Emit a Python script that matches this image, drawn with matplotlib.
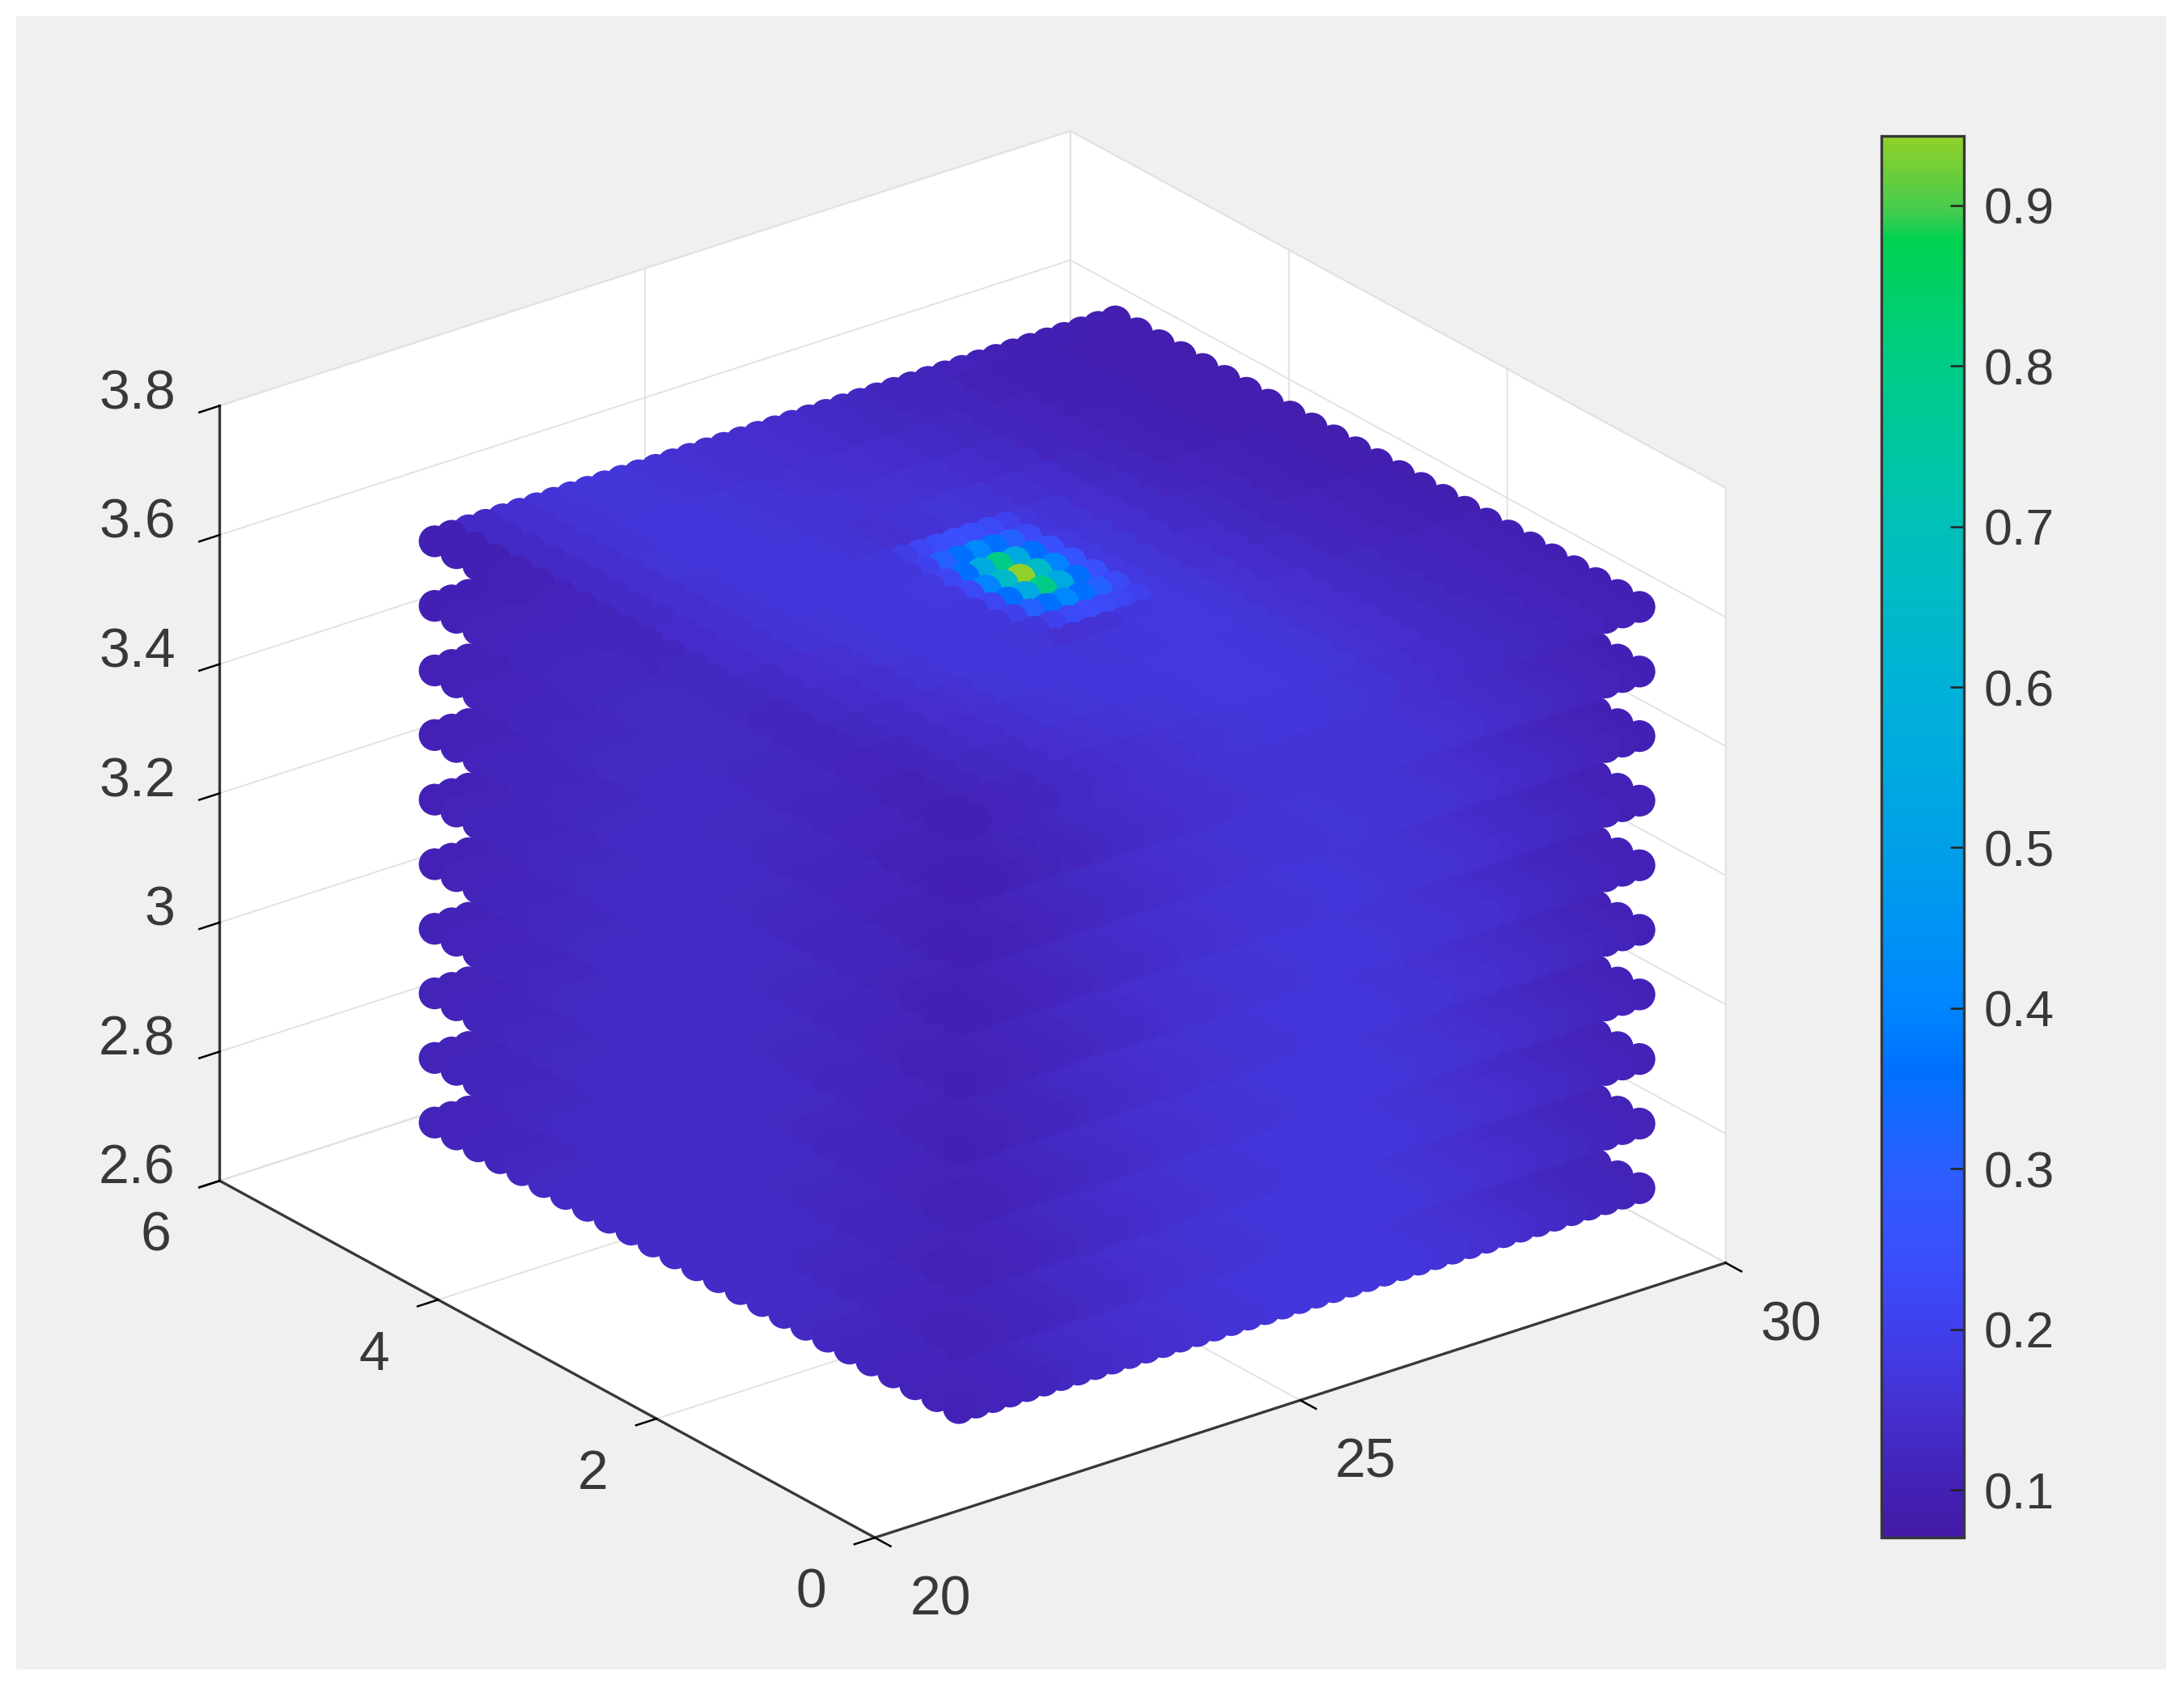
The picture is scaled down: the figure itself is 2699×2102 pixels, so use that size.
import numpy as np
import matplotlib
matplotlib.use('Agg')
import matplotlib.pyplot as plt
from matplotlib.colors import LinearSegmentedColormap, Normalize
from matplotlib.cm import ScalarMappable
from matplotlib.patches import Rectangle
from mpl_toolkits.mplot3d import proj3d

plt.rcParams['font.family'] = ['Liberation Sans', 'DejaVu Sans']
plt.rcParams['grid.color'] = '#e2e2e2'
plt.rcParams['grid.linewidth'] = 1.4

# grid of the points
x_vals = [21.5, 21.7, 21.9, 22.1, 22.3, 22.5, 22.7, 22.9, 23.1, 23.3, 23.5, 23.7, 23.9, 24.1,
          24.3, 24.5, 24.7, 24.9, 25.1, 25.3, 25.5, 25.7, 25.9, 26.1, 26.3, 26.5, 26.7, 26.9,
          27.1, 27.3, 27.5, 27.7, 27.9, 28.1, 28.3, 28.5, 28.7, 28.9, 29.1, 29.3, 29.5]
y_vals = [0.4, 0.6, 0.8, 1.0, 1.2, 1.4, 1.6, 1.8, 2.0, 2.2, 2.4, 2.6, 2.8,
          3.0, 3.2, 3.4, 3.6, 3.8, 4.0, 4.2, 4.4, 4.6, 4.8, 5.0, 5.2]
z_vals = [2.7, 2.8, 2.9, 3.0, 3.1, 3.2, 3.3, 3.4, 3.5, 3.6]

# tick values and labels
x_ticks = [20, 25, 30]
y_ticks = [0, 2, 4, 6]
z_ticks = [2.6, 2.8, 3.0, 3.2, 3.4, 3.6, 3.8]
x_labels = ['20', '25', '30']
y_labels = ['0', '2', '4', '6']
z_labels = ['2.6', '2.8', '3', '3.2', '3.4', '3.6', '3.8']

# top layer, read every second point (rows go with y, columns with x)
top_layer = [
    [.100, .110, .120, .130, .140, .150, .155, .160, .165, .170, .170, .165, .160, .150, .140, .135, .125, .120, .110, .105, .100],
    [.105, .115, .125, .135, .145, .155, .160, .165, .170, .175, .175, .170, .165, .155, .145, .135, .125, .120, .110, .105, .100],
    [.110, .120, .130, .140, .150, .160, .165, .170, .172, .175, .175, .170, .165, .155, .145, .135, .125, .115, .110, .105, .100],
    [.115, .125, .135, .145, .155, .165, .170, .170, .165, .168, .175, .175, .165, .155, .145, .130, .125, .115, .110, .105, .100],
    [.120, .130, .140, .150, .160, .168, .170, .165, .155, .158, .170, .175, .165, .155, .140, .130, .120, .110, .105, .100, .095],
    [.125, .135, .145, .155, .165, .170, .172, .172, .170, .175, .185, .180, .165, .150, .140, .125, .115, .110, .105, .100, .095],
    [.125, .140, .150, .160, .165, .170, .172, .175, .180, .185, .185, .180, .165, .150, .135, .125, .115, .105, .100, .095, .095],
    [.120, .140, .150, .160, .170, .170, .172, .170, .170, .175, .180, .170, .160, .145, .130, .120, .110, .105, .100, .095, .090],
    [.115, .135, .150, .160, .170, .170, .168, .160, .152, .158, .165, .160, .150, .140, .125, .115, .105, .100, .095, .095, .090],
    [.110, .135, .150, .165, .170, .170, .165, .160, .158, .155, .155, .150, .140, .130, .120, .110, .105, .100, .095, .090, .090],
    [.105, .130, .150, .160, .170, .170, .165, .160, .155, .150, .145, .140, .130, .125, .115, .110, .100, .100, .095, .090, .090],
    [.100, .130, .150, .160, .165, .165, .160, .155, .150, .145, .140, .130, .125, .120, .115, .105, .100, .100, .095, .090, .090],
    [.100, .130, .150, .160, .165, .165, .160, .155, .150, .145, .140, .130, .125, .120, .115, .110, .105, .100, .100, .095, .090],
]

# hot spot of the top layer, 7 x 7 points round the maximum
peak_i0, peak_j0 = 16, 9
peak_patch = [
    [.17, .20, .23, .24, .23, .22, .20],
    [.20, .31, .36, .41, .36, .31, .23],
    [.22, .36, .55, .80, .55, .36, .25],
    [.23, .40, .66, .94, .66, .40, .26],
    [.22, .36, .55, .80, .55, .36, .25],
    [.20, .31, .36, .41, .36, .31, .23],
    [.19, .22, .24, .25, .24, .23, .20],
]

# lower layers: only the two front sides show, one value for each point along a side
side_x = [.100, .102, .104, .107, .110, .114, .119, .123, .127, .131, .135, .139, .143, .146, .149, .152,
          .155, .158, .160, .162, .164, .165, .166, .166, .165, .164, .162, .160, .157, .153, .149, .145,
          .140, .135, .130, .125, .120, .115, .110, .106, .103]
side_y = [.100, .102, .105, .108, .112, .115, .118, .121, .124, .126, .128, .129, .130,
          .130, .130, .129, .128, .126, .124, .121, .118, .115, .111, .107, .104]
layer_shift = [.006, .005, .004, .003, .002, .001, .000, -.001, -.002]

# colorbar
cbar_min, cbar_max = 0.0703, 0.9433
cbar_ticks = [0.1, 0.2, 0.3, 0.4, 0.5, 0.6, 0.7, 0.8, 0.9]
cbar_labels = ['0.1', '0.2', '0.3', '0.4', '0.5', '0.6', '0.7', '0.8', '0.9']
cmap_vals = [0.0703, 0.10, 0.15, 0.20, 0.25, 0.30, 0.34, 0.36, 0.40, 0.50, 0.60, 0.70, 0.80, 0.88, 0.895, 0.9433]
cmap_cols = ['#431aa6', '#4320b4', '#4530d0', '#4040ec', '#3a50ff', '#2a5eff', '#0f6cff', '#0070ff',
             '#0085ff', '#00a0e8', '#00b2d8', '#00c0b8', '#00cc88', '#00d250', '#40cc50', '#92d02a']

cmap = LinearSegmentedColormap.from_list(
    'bar', [((v - cbar_min) / (cbar_max - cbar_min), c) for v, c in zip(cmap_vals, cmap_cols)], N=512)
norm = Normalize(cbar_min, cbar_max)

W, H = 2699, 2102
fig = plt.figure(figsize=(W / 100, H / 100), dpi=100, facecolor='white')
fig.add_artist(Rectangle((20 / W, 1 - 2063 / H), (2677 - 20) / W, (2063 - 20) / H,
                         transform=fig.transFigure, fc='#f0f0f0', ec='none', zorder=-5))

ax = fig.add_axes([175 / W, 44 / H, 2000 / W, 2000 / H], projection='3d', proj_type='ortho')
ax.patch.set_alpha(0)
ax.view_init(elev=24.8, azim=232.4)
ax.set_box_aspect((1, 1, 0.795), zoom=1.045)

# fill the layers from the tables
xs, ys, zs, cs = [], [], [], []
for k, z in enumerate(z_vals):
    for j, y in enumerate(y_vals):
        for i, x in enumerate(x_vals):
            if k == len(z_vals) - 1:
                v = top_layer[j // 2][i // 2]
                pi, pj = i - peak_i0, j - peak_j0
                if 0 <= pi < 7 and 0 <= pj < 7:
                    v = peak_patch[pj][pi]
            elif i >= 1.3 * j:
                v = side_x[i] + layer_shift[k]
            else:
                v = side_y[j] + layer_shift[k]
            xs.append(x)
            ys.append(y)
            zs.append(z)
            cs.append(v)

ax.scatter(xs, ys, zs, c=cs, cmap=cmap, norm=norm, s=800, marker='o',
           linewidths=0, depthshade=False, alpha=1)

ax.set_xlim(20, 30)
ax.set_ylim(0, 6)
ax.set_zlim(2.6, 3.8)
ax.set_xticks(x_ticks)
ax.set_yticks(y_ticks)
ax.set_zticks(z_ticks)
ax.set_xticklabels([])
ax.set_yticklabels([])
ax.set_zticklabels([])

for axis in (ax.xaxis, ax.yaxis, ax.zaxis):
    axis.set_pane_color((1, 1, 1, 1))
    axis.pane.set_edgecolor('#e2e2e2')
    axis.pane.set_linewidth(1.4)
    axis.line.set_color('#383838')
    axis.line.set_linewidth(2.4)
    axis._axinfo['tick']['inward_factor'] = 0.3
    axis._axinfo['tick']['outward_factor'] = 0.0
    axis._axinfo['tick']['linewidth'] = {True: 1.8, False: 1.0}
    axis._axinfo['tick']['color'] = '#383838'


# tick labels sit further out than the 3d axis puts them, so project their spot by hand
def tick_text(x, y, z, label, ha):
    px, py, _ = proj3d.proj_transform(x, y, z, ax.get_proj())
    ax.text2D(px, py, label, transform=ax.transData, ha=ha, va='center',
              fontsize=49, color='#383838')


for t, lab in zip(x_ticks, x_labels):
    tick_text(t, -0.6, 2.558, lab, 'center')
for t, lab in zip(y_ticks, y_labels):
    tick_text(19.25, t, 2.546, lab, 'center')
for t, lab in zip(z_ticks, z_labels):
    tick_text(20, 6.406, t - 0.0195, lab, 'right')

cax = fig.add_axes([2325 / W, 1 - 1900 / H, 102 / W, (1900 - 168) / H])
cb = fig.colorbar(ScalarMappable(norm=norm, cmap=cmap), cax=cax)
cb.set_ticks(cbar_ticks)
cb.set_ticklabels(cbar_labels)
cb.outline.set_edgecolor('#383838')
cb.outline.set_linewidth(2.4)
cax.tick_params(direction='in', length=12, width=1.8, color='#222222',
                labelsize=45, labelcolor='#383838', pad=18)

fig.savefig('out.png', dpi=100, facecolor='white')
